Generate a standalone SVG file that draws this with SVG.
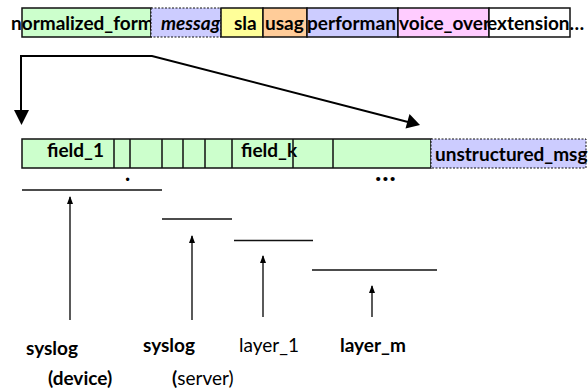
<svg xmlns="http://www.w3.org/2000/svg" width="588" height="392" viewBox="0 0 588 392">
<style>
.b{font-family:Lato,"Liberation Sans",sans-serif;font-weight:bold;fill:#000}
.n{font-family:Lato,"Liberation Sans",sans-serif;font-weight:normal;fill:#000}
.t{font-size:19px}
.s{font-size:19px}
.box{stroke:#111;stroke-width:1.5}
.dash{stroke:#111;stroke-width:1;stroke-dasharray:2,1.5}
.ln{stroke:#111;stroke-width:1.3;fill:none}
.con{stroke:#000;stroke-width:2;fill:none}
.up{stroke:#000;stroke-width:1.3;fill:none;marker-end:url(#ah)}
</style>
<defs>
<marker id="ah" markerWidth="8" markerHeight="8" refX="7" refY="3.5" orient="auto" markerUnits="userSpaceOnUse"><path d="M0,0.5 L8,3.5 L0,6.5 Z" fill="#000"/></marker>
<clipPath id="c0"><rect x="0" y="0" width="151" height="45"/></clipPath>
<clipPath id="c1"><rect x="151" y="0" width="70" height="45"/></clipPath>
<clipPath id="c3"><rect x="263" y="0" width="44" height="45"/></clipPath>
<clipPath id="c4"><rect x="307" y="0" width="91" height="45"/></clipPath>
<clipPath id="c5"><rect x="398" y="0" width="91" height="45"/></clipPath>
</defs>

<g id="normalized_form">
<rect class="box" x="22" y="8" width="129" height="29" fill="#ccffcc"/>
<text class="b t" x="11" y="30" clip-path="url(#c0)">normalized_form</text>
</g>
<g id="message">
<rect class="dash" x="151" y="8" width="70" height="29" fill="#ccccff"/>
<text class="b t" x="161" y="30" font-style="italic" clip-path="url(#c1)">messag</text>
</g>
<g id="sla">
<rect class="box" x="221" y="8" width="42" height="29" fill="#ffff99"/>
<text class="b t" x="234" y="30">sla</text>
</g>
<g id="usage">
<rect class="box" x="263" y="8" width="44" height="29" fill="#ffcc99"/>
<text class="b t" x="265" y="30" clip-path="url(#c3)">usag</text>
</g>
<g id="performance">
<rect class="box" x="307" y="8" width="91" height="29" fill="#ccccff"/>
<text class="b t" x="307" y="30" clip-path="url(#c4)">performan</text>
</g>
<g id="voice_over">
<rect class="box" x="398" y="8" width="91" height="29" fill="#ffccff"/>
<text class="b t" x="399" y="30" clip-path="url(#c5)">voice_over</text>
</g>
<g id="extension">
<rect class="box" x="489" y="8" width="81" height="29" fill="#ffffff"/>
<text class="b t" x="487" y="30">extension…</text>
</g>

<g id="fields">
<rect class="box" x="22" y="139" width="409" height="29" fill="#ccffcc"/>
<text class="b s" x="47" y="157">field_1</text>
<text class="b s" x="241" y="157">field_k</text>
<path class="box" d="M114,139V168M130,139V168M162,139V168M183,139V168M205,139V168M232,139V168M293,139V168M333,139V168"/>
<text class="b" x="125" y="181" font-size="22">.</text>
<text class="b" x="375" y="181" font-size="27">…</text>
</g>
<g id="unstructured_msg">
<rect class="dash" x="431" y="139" width="155" height="29" fill="#ccccff"/>
<text class="b s" x="435" y="161">unstructured_msg</text>
</g>

<g id="layers">
<line class="ln" x1="22" y1="190" x2="162" y2="190"/>
<line class="ln" x1="162" y1="219" x2="232" y2="219"/>
<line class="ln" x1="234" y1="240.5" x2="313" y2="240.5"/>
<line class="ln" x1="312" y1="270" x2="437" y2="270"/>
</g>

<g id="labels">
<text class="b s" x="26" y="355">syslog</text>
<text class="b s" x="48" y="385">(device)</text>
<text class="b s" x="143" y="352">syslog</text>
<text class="n s" x="172" y="385"><tspan font-weight="bold">(</tspan>server)</text>
<text class="n s" x="239" y="352">layer_1</text>
<text class="b s" x="340" y="352">layer_m</text>
</g>

<g id="connectors">
<path class="con" d="M21,112 V56 H152 L408,122"/>
<path d="M14,110 L29,110 L21.5,125 Z" fill="#000"/>
<path d="M405.5,128.5 L409.5,114 L420,125 Z" fill="#000"/>
<line class="up" x1="70" y1="320" x2="70" y2="197"/>
<line class="up" x1="192" y1="320" x2="192" y2="236"/>
<line class="up" x1="263" y1="317" x2="263" y2="256"/>
<line class="up" x1="372" y1="317" x2="372" y2="286"/>
</g>
</svg>
